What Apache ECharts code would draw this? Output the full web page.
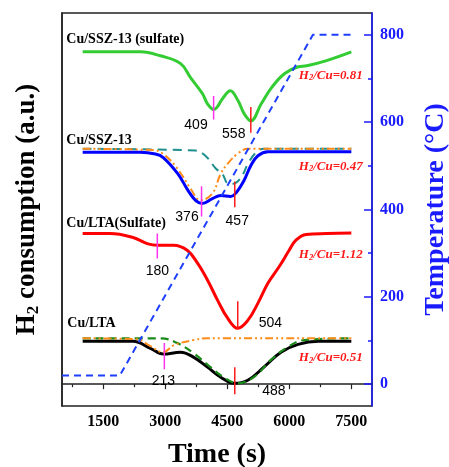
<!DOCTYPE html>
<html>
<head>
<meta charset="utf-8">
<script src="https://cdn.jsdelivr.net/npm/echarts@6/dist/echarts.min.js"></script>
<style>
  html, body { margin: 0; padding: 0; background: #fff; }
  #chart { width: 449px; height: 467px; }
</style>
</head>
<body>
<div id="chart"></div>
<script>
// ---- data (time in s, signal in arbitrary units on the temperature scale) ----
const sulfSszT = [1000, 2400, 2880, 3370, 3610, 3900, 4020, 4170, 4400, 4570, 4760, 4910, 5070, 5320, 5570, 5880, 6220, 6420, 6900, 7500];
const sulfSszV = [761, 761, 752, 734, 702, 665, 642, 629, 656, 672, 649, 619, 603, 642, 679, 711, 727, 729, 741, 761];

const sszT = [1000, 2390, 2760, 2950, 3300, 3540, 3730, 3890, 4140, 4340, 4580, 4700, 4900, 5070, 5240, 5480, 7500];
const sszV = [531, 531, 527, 519, 482, 445, 421, 414, 425, 432, 430, 437, 466, 501, 523, 532, 532];
const sszFit1T = [1000, 3730, 3980, 4220, 4390, 4510, 4640, 4830, 5000, 5190, 5380, 7500];
const sszFit1V = [539, 535, 522, 494, 480, 460, 459, 473, 505, 530, 539, 539];
const sszFit2T = [1000, 2700, 2950, 3290, 3610, 3850, 4140, 4340, 4510, 4750, 5000, 7500];
const sszFit2V = [539, 536, 527, 494, 448, 421, 437, 482, 505, 528, 539, 539];

const sulfLtaT = [1000, 1660, 2220, 2560, 2810, 3195, 3536, 3779, 4022, 4265, 4508, 4752, 4995, 5238, 5481, 5760, 5992, 6160, 6406, 6900, 7500];
const sulfLtaV = [345, 345, 336, 322, 318, 318, 306, 277, 238, 192, 151, 128, 146, 185, 231, 270, 306, 330, 343, 345, 346];

const ltaT = [1000, 2220, 2640, 2950, 3365, 3680, 4020, 4340, 4655, 4995, 5384, 5797, 6210, 6700, 7500];
const ltaV = [98, 98, 82, 69, 73, 62, 39, 16, 2, 9, 39, 73, 91, 98, 98];
const ltaFit1T = [1000, 2900, 3290, 3680, 4090, 4410, 4750, 5140, 5550, 5960, 6360, 7500];
const ltaFit1V = [105, 105, 94, 71, 39, 16, 2, 16, 55, 85, 101, 105];
const ltaFit2T = [1000, 2300, 2640, 2950, 3200, 3680, 4000, 7500];
const ltaFit2V = [105, 103, 87, 73, 89, 101, 105, 105];

const tempT = [500, 1900, 6570, 7500];
const tempV = [20, 20, 800, 800];

// peak markers
const pinkT = [4168, 3876, 2806, 2976];
const pinkTop = [660, 453, 345, 94];
const pinkBot = [606, 384, 288, 34];
const redT = [5068, 4680, 4752, 4680];
const redTop = [635, 464, 190, 39];
const redBot = [576, 405, 126, -23];

// texts
const peakT = [3754, 4667, 3536, 4752, 2818, 5554, 2964, 5639];
const peakV = [592, 571, 382, 373, 258, 139, 5, -16];
const peakText = ['409', '558', '376', '457', '180', '504', '213', '488'];

const sampleT = [617, 617, 617, 640];
const sampleV = [789, 558, 367, 139];
const sampleText = ['Cu/SSZ-13 (sulfate)', 'Cu/SSZ-13', 'Cu/LTA(Sulfate)', 'Cu/LTA'];

const ratioT = [7790, 7790, 7790, 7790];
const ratioV = [706, 498, 295, 59];
const ratioText = ['0.81', '0.47', '1.12', '0.51'];

const xMajor = [1500, 3000, 4500, 6000, 7500];
const xMinor = [750, 2250, 3750, 5250, 6750];
const yMajor = [0, 200, 400, 600, 800];
const yMinor = [100, 300, 500, 700];

const SERIF = '"Liberation Serif", "Times New Roman", serif';
const SANS = '"Liberation Sans", Arial, sans-serif';
const BLUE = '#1a1aff';

function zip(ts, vs) {
    return ts.map((t, i) => [t, vs[i]]);
}

function curve(ts, vs, color, width, type, smooth) {
    return {
        type: 'line',
        data: zip(ts, vs),
        showSymbol: false,
        smooth: smooth,
        silent: true,
        lineStyle: { color: color, width: width, type: type }
    };
}

function textLayer(ts, vs, texts, style) {
    return {
        type: 'scatter',
        symbolSize: 1,
        silent: true,
        itemStyle: { color: 'rgba(0,0,0,0)' },
        data: ts.map((t, i) => ({ value: [t, vs[i]], name: texts[i] })),
        label: Object.assign({ show: true, position: [0, 0], formatter: '{b}', textBorderWidth: 0, opacity: 1 }, style),
        z: 5
    };
}

const series = [
    curve(sulfSszT, sulfSszV, '#33cc33', 3, 'solid', 0.4),
    curve(sszFit1T, sszFit1V, '#1f8f8f', 2, [9, 6], 0.4),
    curve(sszFit2T, sszFit2V, '#ff8c1a', 2, [8, 3, 2, 3, 2, 3], 0.4),
    curve(sszT, sszV, '#0000ff', 3, 'solid', 0.4),
    curve(sulfLtaT, sulfLtaV, '#ff0000', 3, 'solid', 0.4),
    curve(ltaT, ltaV, '#000000', 3, 'solid', 0.4),
    curve(ltaFit1T, ltaFit1V, '#1a8a1a', 2.2, [8, 5], 0.4),
    curve(ltaFit2T, ltaFit2V, '#ff8c1a', 2, [8, 3, 2, 3, 2, 3], 0.4),
];

// temperature ramp on the right axis
const tempSeries = curve(tempT, tempV, '#1f3fff', 2, [7, 5], false);
tempSeries.yAxisIndex = 1;
tempSeries.z = 3;
series.push(tempSeries);

pinkT.forEach((t, i) => {
    series.push(curve([t, t], [pinkTop[i], pinkBot[i]], '#ff33ee', 1.5, 'solid', false));
});
redT.forEach((t, i) => {
    series.push(curve([t, t], [redTop[i], redBot[i]], '#ff1a1a', 1.5, 'solid', false));
});

series.push(textLayer(peakT, peakV, peakText, {
    align: 'center', verticalAlign: 'middle', fontFamily: SANS, fontSize: 14, color: '#000'
}));
series.push(textLayer(sampleT, sampleV, sampleText, {
    align: 'left', verticalAlign: 'middle', fontFamily: SERIF, fontSize: 14, fontWeight: 'bold', color: '#000'
}));
series.push(textLayer(ratioT, ratioV, ratioText, {
    align: 'right', verticalAlign: 'middle',
    formatter: p => '{a|H}{s|2}{a|/Cu=' + p.name + '}',
    rich: {
        a: { fontFamily: SERIF, fontSize: 13, fontWeight: 'bold', fontStyle: 'italic', color: '#ff1a1a', lineHeight: 14 },
        s: { fontFamily: SERIF, fontSize: 8.5, fontWeight: 'bold', fontStyle: 'italic', color: '#ff1a1a', lineHeight: 7, verticalAlign: 'bottom' }
    }
}));

const myChart = echarts.init(document.getElementById('chart'));
const option = {
    animation: false,
    backgroundColor: '#fff',
    grid: {
        left: 62, right: 77, top: 13, bottom: 61,
        containLabel: false, outerBoundsMode: 'none',
        show: true, borderColor: '#222', borderWidth: 1.5
    },
    xAxis: [
        {
            type: 'value', min: 500, max: 8000, position: 'bottom',
            axisLine: { show: true, lineStyle: { color: '#222', width: 1.5 } },
            axisTick: { show: true, length: 5, customValues: xMajor, lineStyle: { color: '#222', width: 1.2 } },
            axisLabel: {
                customValues: xMajor, margin: 8, formatter: v => String(v),
                fontFamily: SERIF, fontWeight: 'bold', fontSize: 16, color: '#000'
            },
            splitLine: { show: false },
            name: 'Time (s)', nameLocation: 'middle', nameGap: 35,
            nameTextStyle: { fontFamily: SERIF, fontWeight: 'bold', fontSize: 28, color: '#000' }
        },
        {
            type: 'value', min: 500, max: 8000, position: 'bottom',
            axisLine: { show: false },
            axisTick: { show: true, length: 3, customValues: xMinor, lineStyle: { color: '#222', width: 1.2 } },
            axisLabel: { show: false },
            splitLine: { show: false }
        }
    ],
    yAxis: [
        {
            type: 'value', min: -50, max: 850, position: 'left',
            axisLine: { show: true, lineStyle: { color: '#222', width: 1.5 } },
            axisTick: { show: false },
            axisLabel: { show: false },
            splitLine: { show: false },
            name: '{a|H}{s|2}{a| consumption (a.u.)}', nameLocation: 'middle', nameGap: 20,
            nameTextStyle: {
                rich: {
                    a: { fontFamily: SERIF, fontWeight: 'bold', fontSize: 27, color: '#000', lineHeight: 30 },
                    s: { fontFamily: SERIF, fontWeight: 'bold', fontSize: 17, color: '#000', lineHeight: 16, verticalAlign: 'bottom' }
                }
            }
        },
        {
            type: 'value', min: -50, max: 850, position: 'right',
            axisLine: { show: true, lineStyle: { color: BLUE, width: 1.5 } },
            axisTick: { show: true, inside: true, length: 8, customValues: yMajor, lineStyle: { color: BLUE, width: 1.5 } },
            axisLabel: { customValues: yMajor, margin: 8, fontFamily: SERIF, fontWeight: 'bold', fontSize: 16, color: BLUE },
            splitLine: { show: false },
            name: 'Temperature (°C)', nameLocation: 'middle', nameGap: 50,
            nameTextStyle: { fontFamily: SERIF, fontWeight: 'bold', fontSize: 28, color: BLUE }
        },
        {
            type: 'value', min: -50, max: 850, position: 'right',
            axisLine: { show: false },
            axisTick: { show: true, inside: true, length: 4, customValues: yMinor, lineStyle: { color: BLUE, width: 1.5 } },
            axisLabel: { show: false },
            splitLine: { show: false }
        }
    ],
    series: series
};
myChart.setOption(option);
window.addEventListener('resize', function () {
    myChart.resize();
});
</script>
</body>
</html>
